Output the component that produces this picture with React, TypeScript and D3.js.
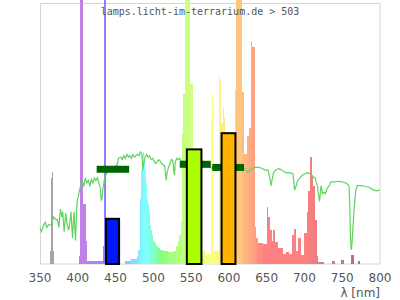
import React from "react";
import * as d3 from "d3";

const titleText = "lamps.licht-im-terrarium.de > 503";
const xTicks = [350, 400, 450, 500, 550, 600, 650, 700, 750, 800];

// lamp spectrum: segment start wavelength (nm) and relative intensity
const specNm = [350, 363.5, 364.5, 365.5, 367, 368, 401.5, 402.5, 403.5, 407, 410.5, 412, 433, 434.3, 438, 456, 462, 470, 478, 480, 482, 483, 484, 485, 486, 488, 489, 490, 491, 492, 493, 494, 495, 496, 497, 498, 500, 502, 504, 506, 509, 513, 520, 527, 530, 532, 534, 536, 538, 539, 542, 549, 552, 556, 560, 568, 576, 577, 579, 580.5, 586.5, 588.5, 590, 591.7, 593.5, 595, 597, 606, 607.5, 609.5, 618, 620.5, 624, 627, 629.3, 631, 634.5, 636, 639, 645, 650, 652, 654.5, 656.5, 659, 661, 665, 672, 676, 680, 684, 686, 689, 692, 695.5, 700, 703, 705, 707, 709.5, 711.5, 714, 716, 718, 726, 736, 740, 749, 752, 762, 765, 771, 773];
const specVal = [0, 0.05, 0.33, 0.353, 0.05, 0, 0.03, 0.07, 1.3, 0.23, 0.09, 0.012, 0.07, 1.3, 0.02, 0, 0.012, 0.018, 0.03, 0.055, 0.12, 0.25, 0.36, 0.42, 0.43, 0.4, 0.36, 0.31, 0.28, 0.25, 0.23, 0.2, 0.17, 0.15, 0.13, 0.11, 0.09, 0.08, 0.07, 0.062, 0.052, 0.048, 0.047, 0.05, 0.07, 0.09, 0.11, 0.16, 0.5, 0.65, 1.3, 0.69, 0.4, 0.1, 0.05, 0.04, 0.56, 0.65, 0.6, 0.05, 0.72, 0.7, 0.54, 0.6, 0.56, 0.5, 0.3, 0.45, 0.67, 1.3, 0.66, 0.42, 0.49, 0.52, 0.85, 0.83, 0.14, 0.1, 0.08, 0.075, 0.22, 0.18, 0.13, 0.09, 0.13, 0.085, 0.06, 0.04, 0.045, 0.038, 0.11, 0.135, 0.05, 0.1, 0.035, 0.12, 0.2, 0.28, 0.41, 0.34, 0.3, 0.17, 0.03, 0.008, 0, 0.012, 0, 0.015, 0, 0.035, 0, 0.01, 0];

// reference (daylight) curve
const refNm = [350, 352, 355, 357, 359, 361, 365, 368, 371, 373, 375, 377, 379, 380, 382, 384, 386, 388, 390, 391, 393, 395, 397, 399, 401, 402, 404, 406, 408, 410, 412, 414, 416, 418, 420, 422, 424, 426, 428, 430, 431, 432, 433, 435, 437, 439, 441, 444, 448, 452, 454, 457, 459, 461, 463, 465, 467, 469, 471, 473, 475, 477, 479, 481, 483, 485, 486, 487, 489, 491, 493, 495, 497, 499, 501, 503, 505, 507, 509, 511, 513, 515, 516, 517, 518, 520, 522, 524, 526, 527, 528, 529, 531, 533, 535, 537, 539, 541, 545, 550, 555, 560, 565, 570, 575, 580, 585, 589, 590, 595, 600, 605, 610, 615, 619, 622, 625, 627, 630, 634, 640, 644, 648, 652, 654, 656, 657, 659, 662, 666, 670, 675, 680, 685, 686, 687, 689, 691, 694, 697, 700, 704, 708, 711, 714, 717, 719, 720, 722, 724, 726, 728, 730, 733, 735, 740, 745, 750, 755, 759, 760, 761, 762, 763, 764, 766, 768, 770, 775, 780, 785, 790, 795, 800];
const refVal = [0.138, 0.124, 0.15, 0.16, 0.14, 0.15, 0.15, 0.18, 0.17, 0.17, 0.14, 0.21, 0.18, 0.2, 0.124, 0.195, 0.15, 0.13, 0.17, 0.2, 0.1, 0.2, 0.09, 0.24, 0.26, 0.28, 0.3, 0.315, 0.3, 0.33, 0.31, 0.32, 0.3, 0.325, 0.31, 0.33, 0.32, 0.33, 0.31, 0.29, 0.245, 0.25, 0.28, 0.32, 0.34, 0.35, 0.36, 0.37, 0.37, 0.38, 0.405, 0.41, 0.4, 0.415, 0.405, 0.42, 0.41, 0.415, 0.405, 0.42, 0.41, 0.415, 0.42, 0.415, 0.43, 0.42, 0.36, 0.38, 0.41, 0.42, 0.41, 0.415, 0.4, 0.405, 0.395, 0.385, 0.39, 0.4, 0.395, 0.385, 0.38, 0.375, 0.35, 0.32, 0.345, 0.37, 0.385, 0.4, 0.395, 0.36, 0.34, 0.39, 0.405, 0.4, 0.405, 0.39, 0.395, 0.38, 0.385, 0.38, 0.38, 0.375, 0.37, 0.375, 0.37, 0.365, 0.37, 0.36, 0.365, 0.37, 0.37, 0.365, 0.37, 0.37, 0.365, 0.365, 0.35, 0.355, 0.365, 0.37, 0.37, 0.366, 0.36, 0.36, 0.33, 0.3, 0.32, 0.35, 0.36, 0.365, 0.36, 0.35, 0.35, 0.345, 0.31, 0.283, 0.3, 0.32, 0.33, 0.34, 0.345, 0.35, 0.345, 0.335, 0.33, 0.3, 0.26, 0.24, 0.3, 0.27, 0.275, 0.27, 0.29, 0.3, 0.315, 0.315, 0.317, 0.315, 0.31, 0.3, 0.22, 0.1, 0.054, 0.08, 0.13, 0.22, 0.283, 0.3, 0.3, 0.297, 0.295, 0.285, 0.28, 0.283];

// bands: bar ranges and values, reference segment ranges and values
const bandStart = [436, 543, 589];
const bandEnd = [456, 565, 610];
const bandVal = [0.177, 0.443, 0.505];
const bandColor = ["#0018ff", "#aaff00", "#ffb400"];
const segStart = [425, 535, 578];
const segEnd = [468, 576, 620];
const segVal = [0.363, 0.382, 0.37];

function waveColor(nm: number): string {
  if (nm < 380) return "#aaa2aa";
  let r = 0, g = 0, b = 0;
  if (nm < 440) { r = -(nm - 440) / 60; b = 1; }
  else if (nm < 490) { g = (nm - 440) / 50; b = 1; }
  else if (nm < 510) { g = 1; b = -(nm - 510) / 20; }
  else if (nm < 580) { r = (nm - 510) / 70; g = 1; }
  else if (nm < 645) { r = 1; g = -(nm - 645) / 65; }
  else { r = 1; }
  let f = 1;
  if (nm < 420) f = 0.3 + 0.7 * (nm - 380) / 40;
  const c = (v: number) => Math.round(255 * Math.pow(v * f, 0.8) * 0.5 + 127.5);
  let R = c(r), G = c(g), B = c(b);
  if (nm > 700) {
    const t = Math.min(1, (nm - 700) / 70);
    R = Math.round(255 + (170 - 255) * t);
    G = Math.round(128 + (118 - 128) * t);
    B = Math.round(128 + (118 - 128) * t);
  }
  return `rgb(${R},${G},${B})`;
}

export default function App() {
  const W = 400, H = 300;
  const x = d3.scaleLinear().domain([350, 800]).range([40, 380]);
  const y = d3.scaleLinear().domain([0, 1]).range([264, 3]);
  const yc = (v: number) => Math.max(0, y(v));

  const refPts: [number, number][] = refNm.map((n, i) => [n, refVal[i]]);
  const line = d3.line<[number, number]>().x(d => x(d[0])).y(d => y(d[1]));

  return (
    <svg width={W} height={H} style={{ position: "absolute", left: 0, top: 0, background: "#fff" }}>
      <rect x={40.5} y={3.5} width={339.5} height={260.5} fill="none" stroke="#d6d6d6" strokeWidth={1} />
      <g shapeRendering="crispEdges">
        {specNm.map((n, i) => {
          const n1 = i < specNm.length - 1 ? specNm[i + 1] : 800;
          const v = specVal[i];
          if (v <= 0) return null;
          const x0 = x(n), x1 = x(n1);
          return <rect key={i} x={x0} y={yc(v)} width={x1 - x0} height={y(0) - yc(v)} fill={waveColor((n + n1) / 2)} />;
        })}
      </g>
      <path d={line(refPts) || ""} fill="none" stroke="#5dd55d" strokeWidth={1.2} />
      {segStart.map((s, i) => (
        <rect key={"s" + i} x={x(s)} y={y(segVal[i]) - 3.5} width={x(segEnd[i]) - x(s)} height={7} fill="#006400" />
      ))}
      {bandStart.map((s, i) => (
        <rect key={"b" + i} x={x(s) + 1} y={y(bandVal[i]) + 1} width={x(bandEnd[i]) - x(s) - 2} height={y(0) - y(bandVal[i]) - 1} fill={bandColor[i]} stroke="#000" strokeWidth={2} />
      ))}
      <text x={200} y={15} textAnchor="middle" fontFamily="DejaVu Sans Mono" fontSize={10} fill="#555">{titleText}</text>
      {xTicks.map(t => (
        <text key={t} x={x(t)} y={282} textAnchor="middle" fontFamily="DejaVu Sans" fontSize={12} fill="#555">{t}</text>
      ))}
      <text x={380} y={297} textAnchor="end" fontFamily="DejaVu Sans" fontSize={12} fill="#555">λ [nm]</text>
    </svg>
  );
}
